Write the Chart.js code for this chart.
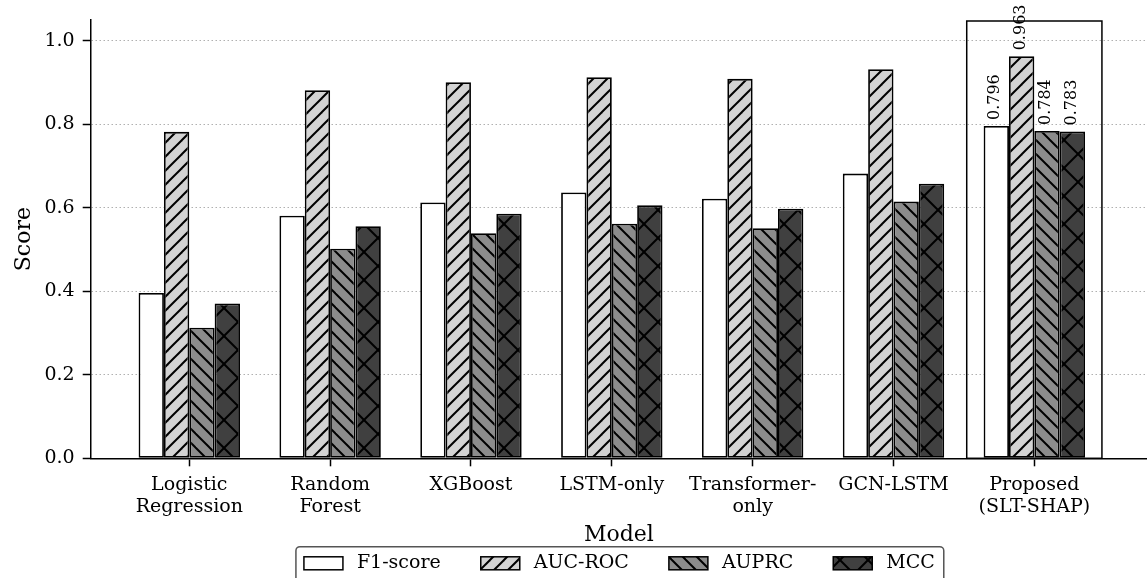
<!DOCTYPE html>
<html>
<head>
<meta charset="utf-8">
<script src="https://cdn.jsdelivr.net/npm/chart.js@4.4.1/dist/chart.umd.min.js"></script>
<style>
  html, body { margin: 0; padding: 0; background: #ffffff; }
  #wrap { width: 1147px; height: 578px; }
</style>
</head>
<body>
<div id="wrap"><canvas id="c" width="1147" height="578"></canvas></div>
<script>
// ---- data ----
const categories = [
  ['Logistic', 'Regression'],
  ['Random', 'Forest'],
  ['XGBoost'],
  ['LSTM-only'],
  ['Transformer-', 'only'],
  ['GCN-LSTM'],
  ['Proposed', '(SLT-SHAP)']
];
const seriesNames = ['F1-score', 'AUC-ROC', 'AUPRC', 'MCC'];
const f1Values    = [0.396, 0.581, 0.613, 0.637, 0.622, 0.682, 0.796];
const aucValues   = [0.782, 0.882, 0.901, 0.913, 0.909, 0.932, 0.963];
const auprcValues = [0.313, 0.502, 0.539, 0.562, 0.551, 0.615, 0.784];
const mccValues   = [0.371, 0.556, 0.586, 0.606, 0.598, 0.658, 0.783];
const yTickValues = [0.0, 0.2, 0.4, 0.6, 0.8, 1.0];
const highlightIndex = 6;

// ---- styles ----
const FONT = "'DejaVu Serif', serif";
const fills = ['#ffffff', '#d3d3d3', '#8c8c8c', '#404040'];
const hatches = ['', '/', '\\', 'x'];

function makePattern(bg, hatch) {
  if (!hatch) return bg;
  const s = hatch === 'x' ? 28 : 14;
  const c = document.createElement('canvas');
  c.width = s; c.height = s;
  const g = c.getContext('2d');
  g.fillStyle = bg; g.fillRect(0, 0, s, s);
  g.strokeStyle = '#000000'; g.lineWidth = 2;
  const h = s / 2;
  const seg = (a, b, cc, d) => { g.beginPath(); g.moveTo(a, b); g.lineTo(cc, d); g.stroke(); };
  if (hatch === '/' || hatch === 'x') {
    seg(-2, s + 2, s + 2, -2);
    seg(-h - 2, h + 2, h + 2, -h - 2);
    seg(h - 2, s + h + 2, s + h + 2, h - 2);
  }
  if (hatch === '\\' || hatch === 'x') {
    seg(-2, -2, s + 2, s + 2);
    seg(-h - 2, h - 2, h + 2, s + h + 2);
    seg(h - 2, -h - 2, s + h + 2, h + 2);
  }
  return g.createPattern(c, 'repeat');
}
const patterns = fills.map((f, i) => makePattern(f, hatches[i]));

const allValues = [f1Values, aucValues, auprcValues, mccValues];
const datasets = allValues.map((vals, i) => ({
  label: seriesNames[i],
  data: vals.map((v, j) => ({ x: j, y: v })),
  backgroundColor: patterns[i],
  borderColor: '#000000',
  borderWidth: 1.8,
  borderSkipped: false,
  barPercentage: 1.0,
  categoryPercentage: 0.72
}));

// ---- plugins ----
const highlightPlugin = {
  id: 'highlight',
  afterDatasetsDraw(chart) {
    const { ctx, scales: { x, y } } = chart;
    const l = x.getPixelForValue(highlightIndex - 0.48);
    const r = x.getPixelForValue(highlightIndex + 0.48);
    const t = y.getPixelForValue(1.05);
    const b = y.getPixelForValue(0);
    ctx.save();
    ctx.strokeStyle = '#000000';
    ctx.lineWidth = 1.5;
    ctx.strokeRect(l, t + 1, r - l, b - t - 1);
    ctx.restore();
  }
};

const valueLabelPlugin = {
  id: 'valueLabels',
  afterDraw(chart) {
    const { ctx } = chart;
    ctx.save();
    ctx.font = "16px " + FONT;
    ctx.fillStyle = '#000000';
    ctx.textAlign = 'left';
    ctx.textBaseline = 'middle';
    chart.data.datasets.forEach((ds, i) => {
      const el = chart.getDatasetMeta(i).data[highlightIndex];
      const v = ds.data[highlightIndex].y;
      ctx.save();
      ctx.translate(el.x - 1, el.y - 6);
      ctx.rotate(-Math.PI / 2);
      ctx.fillText(v.toFixed(3), 0, 0);
      ctx.restore();
    });
    ctx.restore();
  }
};

const customLegendPlugin = {
  id: 'customLegend',
  afterDraw(chart) {
    const { ctx } = chart;
    ctx.save();
    ctx.font = "19px " + FONT;
    const boxW = 39, boxH = 13, gapText = 14, gapItem = 40, padL = 8, padR = 9;
    const widths = chart.data.datasets.map(d => ctx.measureText(d.label).width);
    let total = padL + padR;
    widths.forEach((w, i) => { total += boxW + gapText + w + (i < widths.length - 1 ? gapItem : 0); });
    const cx = (chart.chartArea.left + chart.chartArea.right) / 2 + 1;
    const left = cx - total / 2;
    const top = 546.7;
    ctx.beginPath();
    ctx.roundRect(left, top, total, 45, 4);
    ctx.fillStyle = '#ffffff';
    ctx.fill();
    ctx.strokeStyle = '#555555';
    ctx.lineWidth = 1.5;
    ctx.stroke();
    let xx = left + padL;
    const cy = 563.3;
    chart.data.datasets.forEach((d, i) => {
      ctx.fillStyle = d.backgroundColor;
      ctx.fillRect(xx, cy - boxH / 2, boxW, boxH);
      ctx.strokeStyle = '#000000';
      ctx.lineWidth = 1.5;
      ctx.strokeRect(xx, cy - boxH / 2, boxW, boxH);
      ctx.fillStyle = '#000000';
      ctx.textAlign = 'left';
      ctx.textBaseline = 'middle';
      ctx.fillText(d.label, xx + boxW + gapText, cy);
      xx += boxW + gapText + widths[i] + gapItem;
    });
    ctx.restore();
  }
};

Chart.defaults.font.family = FONT;
Chart.defaults.color = '#000000';

new Chart(document.getElementById('c'), {
  type: 'bar',
  data: { datasets },
  options: {
    responsive: false,
    animation: false,
    layout: { padding: { top: 20, left: 0, right: 0, bottom: 29.7 } },
    plugins: {
      legend: { display: false },
      tooltip: { enabled: false }
    },
    scales: {
      x: {
        type: 'linear',
        min: -0.7,
        max: 6.8,
        offset: false,
        afterBuildTicks(scale) {
          scale.ticks = categories.map((_, i) => ({ value: i }));
        },
        afterFit(scale) { scale.height = 90; },
        ticks: {
          autoSkip: false,
          maxRotation: 0,
          minRotation: 0,
          padding: 8,
          font: { size: 19, lineHeight: 1.14 },
          color: '#000000',
          callback: (v) => categories[v]
        },
        grid: {
          offset: false,
          drawOnChartArea: false,
          drawTicks: true,
          tickLength: 8,
          tickWidth: 1.5,
          tickColor: '#000000',
          color: '#000000'
        },
        border: { display: true, color: '#000000', width: 1.5 },
        title: {
          display: true,
          text: 'Model',
          font: { size: 22, lineHeight: 1.2 },
          color: '#000000',
          padding: { top: 0, bottom: 0 }
        }
      },
      y: {
        type: 'linear',
        min: 0,
        max: 1.05,
        afterBuildTicks(scale) {
          scale.ticks = yTickValues.map(v => ({ value: v }));
        },
        afterFit(scale) { scale.width = 90.7; },
        ticks: {
          padding: 8,
          font: { size: 19 },
          color: '#000000',
          callback: (v) => Number(v).toFixed(1)
        },
        grid: {
          drawOnChartArea: true,
          drawTicks: true,
          tickLength: 8,
          tickWidth: 1.5,
          tickColor: '#000000',
          lineWidth: 1,
          color: (c) => (c.tick && c.tick.value === 0 ? 'rgba(0,0,0,0)' : '#b0b0b0')
        },
        border: { display: true, color: '#000000', width: 1.5, dash: [1.5, 2.5] },
        title: {
          display: true,
          text: 'Score',
          font: { size: 22, lineHeight: 1.2 },
          color: '#000000',
          padding: { top: 11, bottom: 0 }
        }
      }
    }
  },
  plugins: [highlightPlugin, valueLabelPlugin, customLegendPlugin]
});
</script>
</body>
</html>
